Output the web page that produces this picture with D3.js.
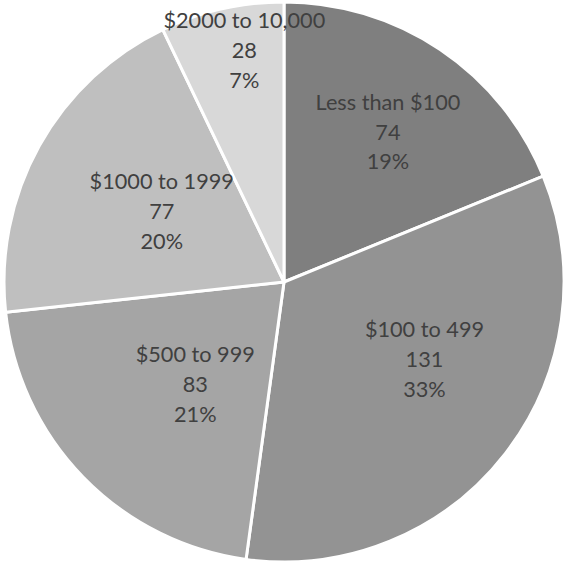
<!DOCTYPE html>
<html><head><meta charset="utf-8">
<script src="https://cdn.jsdelivr.net/npm/d3@7"></script>
<style>html,body{margin:0;padding:0;background:#fff;}</style>
</head><body>
<svg id="chart" width="564" height="564"></svg>
<script>
const categories = ["Less than $100", "$100 to 499", "$500 to 999", "$1000 to 1999", "$2000 to 10,000"];
const values = [74, 131, 83, 77, 28];
const colors = ["#7f7f7f", "#939393", "#a5a5a5", "#bfbfbf", "#d8d8d8"];
// label placement (fraction of radius, angle shift in degrees)
const labelRadiusFrac = [0.652, 0.573, 0.483, 0.504, 0.839];
const labelAngleShift = [0.8, -8.9, -4.8, 0.9, 3.1];

const W = 564, H = 564, cx = 284, cy = 282, R = 280;
const svg = d3.select("#chart");
const g = svg.append("g").attr("transform", `translate(${cx},${cy})`);
const total = d3.sum(values);
const data = categories.map((c, i) => ({cat: c, val: values[i], i}));
const pie = d3.pie().value(d => d.val).sort(null);
const arcs = pie(data);
const arc = d3.arc().innerRadius(0).outerRadius(R);

g.selectAll("path").data(arcs).join("path")
  .attr("d", arc)
  .attr("fill", d => colors[d.data.i])
  .attr("stroke", "#fff")
  .attr("stroke-width", 3)
  .attr("stroke-linejoin", "round");

const fmtPct = v => Math.round(v / total * 100) + "%";
const lineH = 30;
const lbl = g.selectAll("g.lbl").data(arcs).join("g").attr("class", "lbl")
  .attr("transform", d => {
    const a = (d.startAngle + d.endAngle) / 2 + labelAngleShift[d.data.i] * Math.PI / 180;
    const r = labelRadiusFrac[d.data.i] * R;
    return `translate(${r * Math.sin(a)},${-r * Math.cos(a)})`;
  });
lbl.each(function(d) {
  const lines = [d.data.cat, String(d.data.val), fmtPct(d.data.val)];
  d3.select(this).selectAll("text").data(lines).join("text")
    .attr("x", 0)
    .attr("y", (t, k) => (k - 1) * lineH)
    .attr("dy", "0.35em")
    .attr("text-anchor", "middle")
    .attr("font-family", "Lato, 'Liberation Sans', sans-serif")
    .attr("font-size", 21.7)
    .attr("fill", "#404040")
    .text(t => t);
});
</script>
</body></html>
